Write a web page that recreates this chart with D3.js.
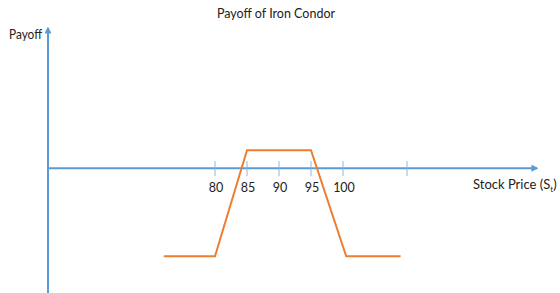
<!DOCTYPE html>
<html>
<head>
<meta charset="utf-8">
<script src="https://cdn.jsdelivr.net/npm/d3@7"></script>
<style>
  body { margin: 0; background: #fff; }
  text { font-family: Lato, "Open Sans", sans-serif; fill: #222; }
</style>
</head>
<body>
<div id="chart"></div>
<script>
// payoff diagram data
var prices  = [72, 80, 85, 95, 100.5, 109];
var payoffs = [-4.9, -4.9, 1, 1, -4.9, -4.9];
var tickValues = [80, 85, 90, 95, 100, 110];
var tickLabels = ["80", "85", "90", "95", "100", ""];

var width = 560, height = 293;

var svg = d3.select("#chart")
  .append("svg")
    .attr("width", width)
    .attr("height", height);

// x: 80 -> 215px, 100 -> 343px
var x = d3.scaleLinear()
    .domain([80, 100])
    .range([215, 343]);

// y: 0 on the price axis
var y = d3.scaleLinear()
    .domain([-7, 7.8])
    .range([294, 28]);

var axisColor = "#5B9BD5";

var defs = svg.append("defs");
defs.append("marker")
    .attr("id", "arrow")
    .attr("viewBox", "0 0 10 10")
    .attr("refX", 8)
    .attr("refY", 5)
    .attr("markerWidth", 3.5)
    .attr("markerHeight", 3.5)
    .attr("orient", "auto")
  .append("path")
    .attr("d", "M0,0 L10,5 L0,10 z")
    .attr("fill", axisColor);

var x0 = x.invert(48), x1 = x.invert(537);

// y axis
svg.append("line")
    .attr("x1", x(x0)).attr("x2", x(x0))
    .attr("y1", y(-7)).attr("y2", y(7.8))
    .attr("stroke", axisColor)
    .attr("stroke-width", 2)
    .attr("marker-end", "url(#arrow)");

// x axis
svg.append("line")
    .attr("x1", x(x0)).attr("x2", x(x1))
    .attr("y1", y(0)).attr("y2", y(0))
    .attr("stroke", axisColor)
    .attr("stroke-width", 2)
    .attr("marker-end", "url(#arrow)");

// tick marks
svg.selectAll(".tick")
  .data(tickValues)
  .enter()
  .append("line")
    .attr("x1", function(d){ return x(d); })
    .attr("x2", function(d){ return x(d); })
    .attr("y1", y(0) - 7)
    .attr("y2", y(0) + 8)
    .attr("stroke", "#8DB5E2")
    .attr("stroke-width", 1);

svg.selectAll(".tlabel")
  .data(tickValues)
  .enter()
  .append("text")
    .attr("x", function(d){ return x(d) + 1; })
    .attr("y", y(0) + 24)
    .attr("text-anchor", "middle")
    .style("font-size", "12.5px")
    .text(function(d, i){ return tickLabels[i]; });

// payoff line
var line = d3.line()
    .x(function(d, i){ return x(prices[i]); })
    .y(function(d){ return y(d); });

svg.append("path")
    .datum(payoffs)
    .attr("d", line)
    .attr("fill", "none")
    .attr("stroke", "#ED7D31")
    .attr("stroke-width", 2);

// titles
svg.append("text")
    .attr("x", 276)
    .attr("y", 18)
    .attr("text-anchor", "middle")
    .style("font-size", "12.5px")
    .text("Payoff of Iron Condor");

svg.append("text")
    .attr("x", 9)
    .attr("y", 39)
    .attr("textLength", 33)
    .attr("lengthAdjust", "spacingAndGlyphs")
    .style("font-size", "12.5px")
    .text("Payoff");

var st = svg.append("text")
    .attr("x", 473)
    .attr("y", y(0) + 21)
    .style("font-size", "13px");
st.append("tspan").text("Stock Price (S");
st.append("tspan").attr("dy", 3).style("font-size", "8px").text("t");
st.append("tspan").attr("dy", -3).text(")");
</script>
</body>
</html>
